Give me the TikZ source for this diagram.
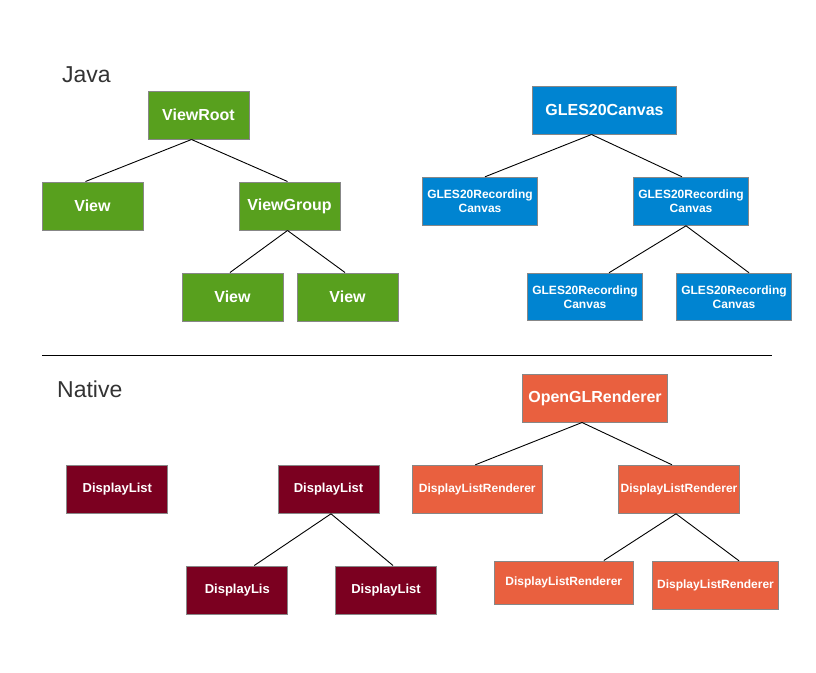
\documentclass[tikz,border=0pt]{standalone}
\usepackage{fontspec}
\setmainfont{Liberation Sans}
\definecolor{jgreen}{RGB}{88,160,30}
\definecolor{jblue}{RGB}{0,132,209}
\definecolor{nmaroon}{RGB}{123,0,32}
\definecolor{norange}{RGB}{233,96,63}
\definecolor{bordergray}{RGB}{135,135,135}
\definecolor{labelgray}{RGB}{51,51,51}
\tikzset{
  box/.style={rectangle, draw=bordergray, line width=1pt, inner sep=0pt, align=center,
    text=white, font=\bfseries},
  gbox/.style={box, fill=jgreen, minimum width=101pt, minimum height=48pt, font=\bfseries\fontsize{16}{18}\selectfont},
  bbox/.style={box, fill=jblue, minimum width=115.5pt, minimum height=48pt, font=\bfseries\fontsize{12}{14}\selectfont},
  mbox/.style={box, fill=nmaroon, minimum width=101pt, minimum height=48pt, font=\bfseries\fontsize{13}{15}\selectfont},
  obox/.style={box, fill=norange, minimum height=48pt, font=\bfseries\fontsize{12}{14}\selectfont},
  link/.style={draw=black, line width=0.9pt},
  section/.style={text=labelgray, font=\fontsize{23}{26}\selectfont, anchor=west, inner sep=0pt}
}
\begin{document}
\begin{tikzpicture}[x=1pt,y=1pt]
\useasboundingbox (0,0) rectangle (816,-672);
% labels
\node[section] (java) at (62,-75) {Java};
\node[section] (native) at (57,-389) {Native};
\coordinate (sepL) at (42,-355);
\coordinate (sepR) at (772,-355);
\draw[link] (sepL) -- (sepR);
% Java green tree
\node[gbox] (vr) at (198.5,-115) {ViewRoot};
\node[gbox] (v1) at (92.5,-206) {View};
\node[gbox] (vg) at (289.5,-206) {ViewGroup};
\node[gbox] (v2) at (232.5,-297) {View};
\node[gbox] (v3) at (347.5,-297) {View};
\draw[link] ([xshift=-7pt]vr.south) -- ([xshift=-7pt]v1.north);
\draw[link] ([xshift=-7pt]vr.south) -- ([xshift=-2pt]vg.north);
\draw[link] ([xshift=-2pt]vg.south) -- ([xshift=-2.5pt]v2.north);
\draw[link] ([xshift=-2pt]vg.south) -- ([xshift=-2.5pt]v3.north);
% Java blue tree
\node[bbox, minimum width=144.5pt, font=\bfseries\fontsize{16}{18}\selectfont] (gc) at (604.5,-110) {GLES20Canvas};
\node[bbox] (rc1) at (480,-201.3) {GLES20Recording\\Canvas};
\node[bbox] (rc2) at (691,-201.3) {GLES20Recording\\Canvas};
\node[bbox, minimum height=47.5pt] (rc3) at (585,-297) {GLES20Recording\\Canvas};
\node[bbox, minimum height=47.5pt] (rc4) at (734,-297) {GLES20Recording\\Canvas};
\draw[link] ([xshift=-13pt]gc.south) -- ([xshift=5pt]rc1.north);
\draw[link] ([xshift=-13pt]gc.south) -- ([xshift=-9pt]rc2.north);
\draw[link] ([xshift=-5pt]rc2.south) -- ([xshift=24pt]rc3.north);
\draw[link] ([xshift=-5pt]rc2.south) -- ([xshift=15pt]rc4.north);
% Native maroon tree
\node[mbox] (dl0) at (117.3,-489.3) {DisplayList};
\node[mbox] (dl1) at (328.5,-489.3) {DisplayList};
\node[mbox] (dl2) at (237.3,-590) {DisplayLis};
\node[mbox] (dl3) at (386,-590) {DisplayList};
\draw[link] ([xshift=2.5pt]dl1.south) -- ([xshift=17pt]dl2.north);
\draw[link] ([xshift=2.5pt]dl1.south) -- ([xshift=7pt]dl3.north);
% Native orange tree
\node[obox, minimum width=144.5pt, font=\bfseries\fontsize{16}{18}\selectfont] (ogl) at (595,-398) {OpenGLRenderer};
\node[obox, minimum width=130.5pt] (dr1) at (477.3,-489.3) {DisplayListRenderer};
\node[obox, minimum width=120.5pt] (dr2) at (679,-489.3) {DisplayListRenderer};
\node[obox, minimum width=139pt, minimum height=43pt] (dr3) at (563.8,-582.5) {DisplayListRenderer};
\node[obox, minimum width=126.5pt] (dr4) at (715.5,-585.3) {DisplayListRenderer};
\draw[link] ([xshift=-13pt]ogl.south) -- ([xshift=-2pt]dr1.north);
\draw[link] ([xshift=-13pt]ogl.south) -- ([xshift=-7pt]dr2.north);
\draw[link] ([xshift=-3pt]dr2.south) -- ([xshift=40pt]dr3.north);
\draw[link] ([xshift=-3pt]dr2.south) -- ([xshift=23.5pt]dr4.north);
\end{tikzpicture}
\end{document}
